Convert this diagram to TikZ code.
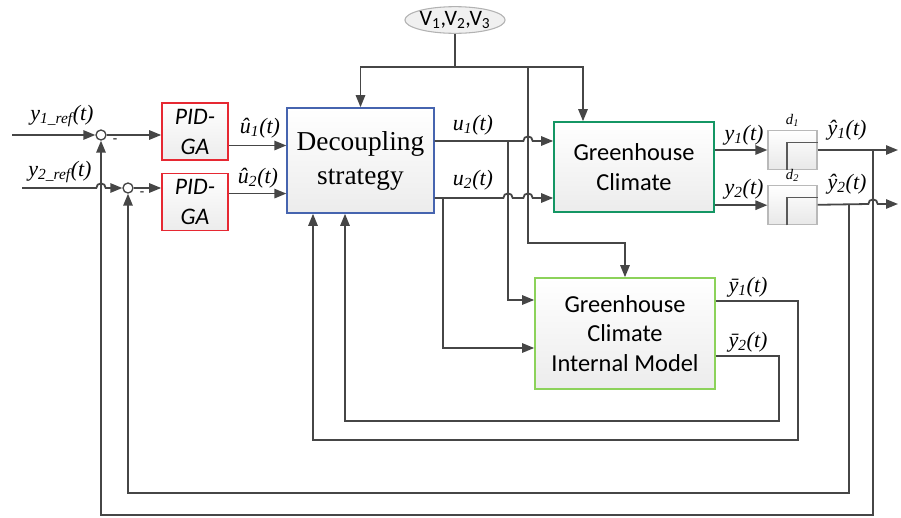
\documentclass[tikz,border=0pt]{standalone}
\usepackage{fontspec}
\setmainfont{Liberation Serif}
\newfontfamily\calibri{Carlito}
\usepackage{tikz}
\usetikzlibrary{positioning, arrows.meta, shapes.geometric}

\definecolor{linegray}{RGB}{70,70,70}
\definecolor{decblue}{RGB}{70,100,175}
\definecolor{pidred}{RGB}{230,40,50}
\definecolor{gcgreen}{RGB}{20,150,100}
\definecolor{imgreen}{RGB}{140,210,90}

\begin{document}
\begin{tikzpicture}[
    x=0.75pt, y=-0.75pt,
    block/.style={draw, line width=1.2pt, top color=white, bottom color=gray!15, align=center, inner sep=2pt},
    delay/.style={draw=gray!55, line width=0.9pt, top color=white, bottom color=gray!18, minimum width=36.75pt, minimum height=29.25pt},
    sumnode/.style={circle, draw=linegray, line width=1pt, fill=white, minimum size=7.5pt, inner sep=0pt},
    link/.style={line width=1.35pt, draw=linegray},
    arrow/.style={link, -{Triangle[length=9pt,width=7pt]}},
    lbl/.style={font=\fontsize{16.5}{18}\selectfont\itshape, inner sep=1pt},
    boxfont/.style={font=\calibri\fontsize{18.3}{22}\selectfont}
]
\useasboundingbox (0,0) rectangle (901,518);

% Nodes
\node[ellipse, draw=gray!60, line width=0.8pt, fill=gray!12, minimum width=68pt, minimum height=20pt, inner sep=0pt,
      font=\calibri\fontsize{16.5}{17}\selectfont] (vars) at (455,20) {V\textsubscript{1},V\textsubscript{2},V\textsubscript{3}};

\node[block, draw=decblue, minimum width=110pt, minimum height=78.75pt,
      font=\fontsize{20.5}{25.5}\selectfont] (dec) at (360.5,160.5) {Decoupling\\strategy};

\node[block, draw=pidred, minimum width=49.5pt, minimum height=42.75pt,
      font=\calibri\itshape\fontsize{17.8}{22.5}\selectfont] (pid1) at (195,131.5) {PID-\\GA};
\node[block, draw=pidred, minimum width=49.5pt, minimum height=42.75pt,
      font=\calibri\itshape\fontsize{17.8}{22.5}\selectfont, below=9pt of pid1] (pid2) {PID-\\GA};

\node[block, boxfont, draw=gcgreen, minimum width=120pt, minimum height=67.5pt] (gc) at (634,167) {Greenhouse\\Climate};

\node[block, boxfont, draw=imgreen, minimum width=135pt, minimum height=83.25pt] (im) at (625,333.5) {Greenhouse\\Climate\\Internal Model};

\node[delay] (d1) at (792.5,150) {};
\node[delay, below=11.25pt of d1] (d2) {};
\draw[draw=gray!70!black, line width=1.2pt] ([xshift=-4pt]d1.south) |- ([yshift=-9.4pt]d1.north east);
\draw[draw=gray!70!black, line width=1.2pt] ([xshift=-4pt]d2.south) |- ([yshift=-9.4pt]d2.north east);

\node[sumnode] (sum1) at (101,135) {};
\node[sumnode] (sum2) at (128,188) {};

% Routing points
\coordinate (r1in) at (12,135);
\coordinate (r2in) at (22,188);
\coordinate (vtop) at (455,67);
\coordinate (vbr) at (528,67);
\coordinate (gctop) at (583,67);
\coordinate (imtop) at (625,243);
\coordinate (ru1) at (0,141);
\coordinate (ru2) at (0,198);
\coordinate (rim1) at (0,300);
\coordinate (rim2) at (0,348);
\coordinate (ryb1) at (0,301);
\coordinate (ryb2) at (0,356);
\coordinate (br1) at (508,141);
\coordinate (br2) at (443,198);
\coordinate (hx0) at (101,188);
\coordinate (hx1) at (528,141);
\coordinate (hx2) at (508,198);
\coordinate (hx3) at (528,198);
\coordinate (hx4) at (873,204);
\coordinate (fb1) at (873,150);
\coordinate (fb2) at (849,204);
\coordinate (fb1d) at (873,515);
\coordinate (fb2d) at (849,493);
\coordinate (out1) at (898,150);
\coordinate (out2) at (898,204);
\coordinate (yb1r) at (798,440);
\coordinate (yb1l) at (313,440);
\coordinate (yb2r) at (779,421);
\coordinate (yb2l) at (345,421);

% Connections
\draw[link] (vars) -- (vtop);
\draw[arrow] (vtop) -| (dec.north);
\draw[arrow] (vtop) -- (gctop) -- (gctop |- gc.north);
\draw[arrow] (vbr) |- (imtop) -- (im.north);

\draw[arrow] (r1in) -- (sum1);
\draw[arrow] (r2in) -- ([xshift=-3.5pt]hx0) arc (180:0:3.5pt) -- (sum2);
\draw[arrow] (sum1) -- (sum1 -| pid1.west);
\draw[arrow] (sum2) -- (sum2 -| pid2.west);
\draw[arrow] ([yshift=-10.5pt]pid1.east) -- ([yshift=-10.5pt]pid1.east -| dec.west);
\draw[arrow] ([yshift=6.4pt]pid2.east) -- ([yshift=6.4pt]pid2.east -| dec.west);

\draw[arrow] (dec.east |- ru1) -- ([xshift=-3.5pt]hx1) arc (180:0:3.5pt) -- (gc.west |- ru1);
\draw[arrow] (dec.east |- ru2) -- ([xshift=-3.5pt]hx2) arc (180:0:3.5pt)
    -- ([xshift=-3.5pt]hx3) arc (180:0:3.5pt) -- (gc.west |- ru2);
\draw[arrow] (br1) |- (im.west |- rim1);
\draw[arrow] (br2) |- (im.west |- rim2);

\draw[arrow] (gc.east |- d1) -- (d1);
\draw[arrow] (gc.east |- d2) -- (d2);
\draw[arrow] (d1) -- (out1);
\draw[arrow] (d2) -- ([xshift=-3.5pt]hx4) arc (180:0:3.5pt) -- (out2);

\draw[arrow] (fb1) -- (fb1d) -| (sum1);
\draw[arrow] (fb2) -- (fb2d) -| (sum2);
\draw[arrow] (im.east |- ryb1) -| (yb1r) -- (yb1l) -- (yb1l |- dec.south);
\draw[arrow] (im.east |- ryb2) -| (yb2r) -- (yb2l) -- (yb2l |- dec.south);

% Labels
\node[lbl] (lr1) at (62,116) {y\textsubscript{1\_ref}(t)};
\node[lbl] (lr2) at (60,172) {y\textsubscript{2\_ref}(t)};
\node[lbl] (luh1) at (260,128) {û\textsubscript{1}(t)};
\node[lbl] (luh2) at (258,178) {û\textsubscript{2}(t)};
\node[lbl] (lu1) at (473,125) {u\textsubscript{1}(t)};
\node[lbl] (lu2) at (473,180) {u\textsubscript{2}(t)};
\node[lbl] (ly1) at (744,135) {y\textsubscript{1}(t)};
\node[lbl] (ly2) at (744,189) {y\textsubscript{2}(t)};
\node[lbl] (lyh1) at (847,130) {ŷ\textsubscript{1}(t)};
\node[lbl] (lyh2) at (847,184) {ŷ\textsubscript{2}(t)};
\node[lbl] (lyb1) at (748,287) {ȳ\textsubscript{1}(t)};
\node[lbl] (lyb2) at (748,342) {ȳ\textsubscript{2}(t)};
\node[font=\fontsize{11}{11}\selectfont\itshape, above=-1pt of d1] (ld1) {d\textsubscript{1}};
\node[font=\fontsize{11}{11}\selectfont\itshape, above=-1pt of d2] (ld2) {d\textsubscript{2}};
\node[font=\fontsize{10}{10}\selectfont, inner sep=0pt] (m1) at (115,141) {-};
\node[font=\fontsize{10}{10}\selectfont, inner sep=0pt] (m2) at (142,194) {-};

\end{tikzpicture}
\end{document}
